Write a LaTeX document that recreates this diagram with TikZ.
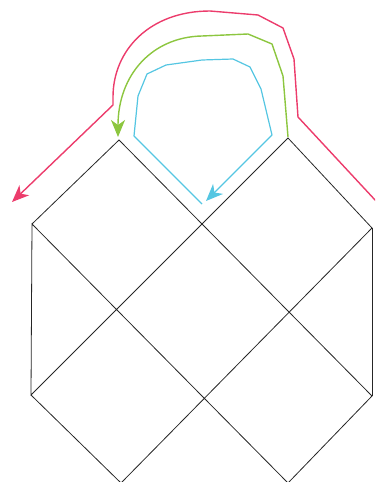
\documentclass[tikz,border=0pt]{standalone}
\usetikzlibrary{arrows.meta}
\definecolor{pinkc}{HTML}{EC3C6C}
\definecolor{greenc}{HTML}{8CC63F}
\definecolor{cyanc}{HTML}{55C6E2}
\begin{document}
\begin{tikzpicture}[x=1pt,y=-1pt,
  gridline/.style={draw=black!85,line width=0.8pt},
  route/.style={line width=1.4pt,line join=round},
  tip/.style={-{Stealth[length=17pt,width=14pt,inset=5pt]}}]
\useasboundingbox (0,0) rectangle (375,482);
\clip (0,0) rectangle (375,482);
% grid corners
\coordinate (tl) at (119,140);
\coordinate (tr) at (288,138);
\coordinate (ml) at (32,224);
\coordinate (mr) at (372,228);
\coordinate (ll) at (31,395);
\coordinate (lr) at (372,396);
\coordinate (bl) at (121,483);
\coordinate (br) at (288,483);
\draw[gridline] (ml) -- (tl) -- (lr) -- (br) -- (ml) -- (ll) -- (tr) -- (mr) -- (bl) -- (ll);
\draw[gridline] (mr) -- (lr);
% pink route
\coordinate (p0) at (376,201);
\coordinate (pe) at (12,202);
\draw[route,pinkc,tip] (p0) -- (298,117) -- (294,59) -- (283,28) -- (258,15) -- (210,11)
  .. controls (150,11) and (113,50) .. (113,97) -- (113,105) -- (pe);
% green route
\coordinate (ge) at (118,137);
\draw[route,greenc,tip] (288,137) -- (283,76) -- (272,44) -- (248,34) -- (202,36)
  .. controls (152,37) and (118,75) .. (ge);
% cyan route
\coordinate (c0) at (202,204);
\coordinate (ce) at (206,201);
\draw[route,cyanc,line width=1.2pt,tip] (c0) -- (134,136) -- (138,96) -- (147,74) -- (166,65) -- (202,60)
  -- (233,59) -- (250,67) -- (261,89) -- (272,135) -- (ce);
\end{tikzpicture}
\end{document}
